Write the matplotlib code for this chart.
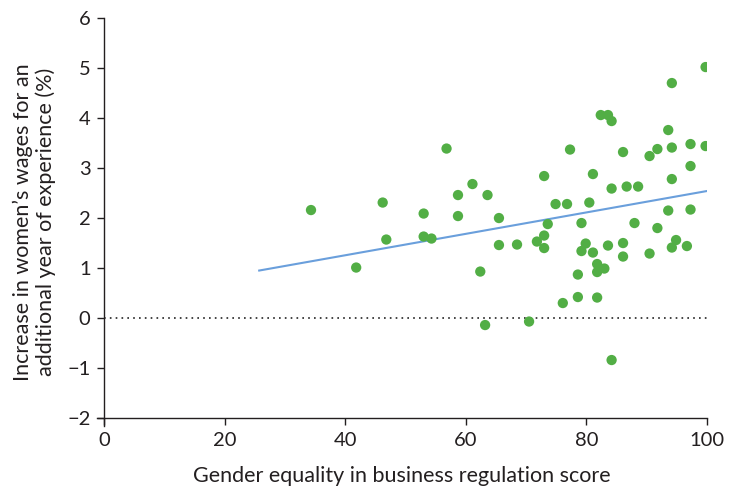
import numpy as np
import matplotlib.pyplot as plt

plt.rcParams['font.family'] = ['Lato', 'DejaVu Sans']

# gender equality score vs wage increase per extra year (%)
score = [34.3, 46.2, 46.8, 41.8, 56.8, 53.0, 53.0, 54.3, 58.7, 58.7,
         61.1, 63.6, 65.5, 65.5, 68.5, 62.4, 63.2, 70.5, 71.8, 73.0,
         73.0, 73.6, 73.0, 74.9, 76.8, 77.3, 76.1, 78.6, 78.6, 79.2,
         79.2, 79.9, 80.5, 81.1, 81.1, 81.8, 81.8, 83.0, 81.8, 82.4,
         83.6, 84.2, 83.6, 84.2, 84.2, 86.1, 86.1, 86.1, 86.7, 88.0,
         88.6, 90.5, 90.5, 91.8, 91.8, 93.6, 93.6, 94.2, 94.2, 94.2,
         94.2, 94.9, 96.7, 97.3, 97.3, 97.3, 99.8, 99.8]
wage = [2.16, 2.31, 1.57, 1.01, 3.39, 2.09, 1.63, 1.59, 2.46, 2.04,
        2.68, 2.46, 2.00, 1.46, 1.47, 0.93, -0.14, -0.07, 1.53, 1.65,
        1.40, 1.88, 2.84, 2.28, 2.28, 3.37, 0.30, 0.42, 0.87, 1.90,
        1.34, 1.49, 2.31, 2.88, 1.31, 1.08, 0.92, 0.99, 0.41, 4.06,
        4.06, 3.94, 1.45, 2.59, -0.84, 3.32, 1.50, 1.23, 2.63, 1.90,
        2.63, 3.24, 1.29, 3.38, 1.80, 3.76, 2.15, 4.70, 3.41, 2.78,
        1.41, 1.56, 1.44, 3.48, 3.04, 2.17, 5.02, 3.44]

# trend line end points
fit_x = [25.7, 100]
fit_y = [0.95, 2.54]

xticks = [0, 20, 40, 60, 80, 100]
yticks = [-2, -1, 0, 1, 2, 3, 4, 5, 6]

text_col = '#231f20'

fig = plt.figure(figsize=(7.37, 4.88), dpi=100)
ax = fig.add_axes([0.131, 0.128, 0.828, 0.835])

ax.plot([0, 100], [0, 0], color='#222222', lw=1.2, ls=(0, (1, 2.5)), zorder=1)
ax.plot(fit_x, fit_y, color='#6a9fdc', lw=1.5, zorder=2)
ax.scatter(score, wage, s=55, color='#52ae45', edgecolors='none', zorder=3)

ax.set_xlim(-1.3, 100)
ax.set_ylim(-2.15, 6)
ax.spines['left'].set_position(('data', 0))
ax.spines['bottom'].set_position(('data', -2))
ax.spines['top'].set_visible(False)
ax.spines['right'].set_visible(False)
for s in ['left', 'bottom']:
    ax.spines[s].set_color(text_col)
    ax.spines[s].set_linewidth(1)

ax.set_xticks(xticks)
ax.set_yticks(yticks)
ax.set_yticklabels([str(t).replace('-', '\u2212') for t in yticks])
ax.tick_params(direction='out', length=5, width=1, colors=text_col,
               labelsize=14.5, pad=5)

ax.set_xlabel('Gender equality in business regulation score', fontsize=15.5,
              color=text_col, labelpad=12)
ax.set_ylabel('Increase in women\u2019s wages for an\nadditional year of experience (%)',
              fontsize=15.5, color=text_col, labelpad=8, linespacing=1.15)

fig.savefig('out.png', dpi=100)
